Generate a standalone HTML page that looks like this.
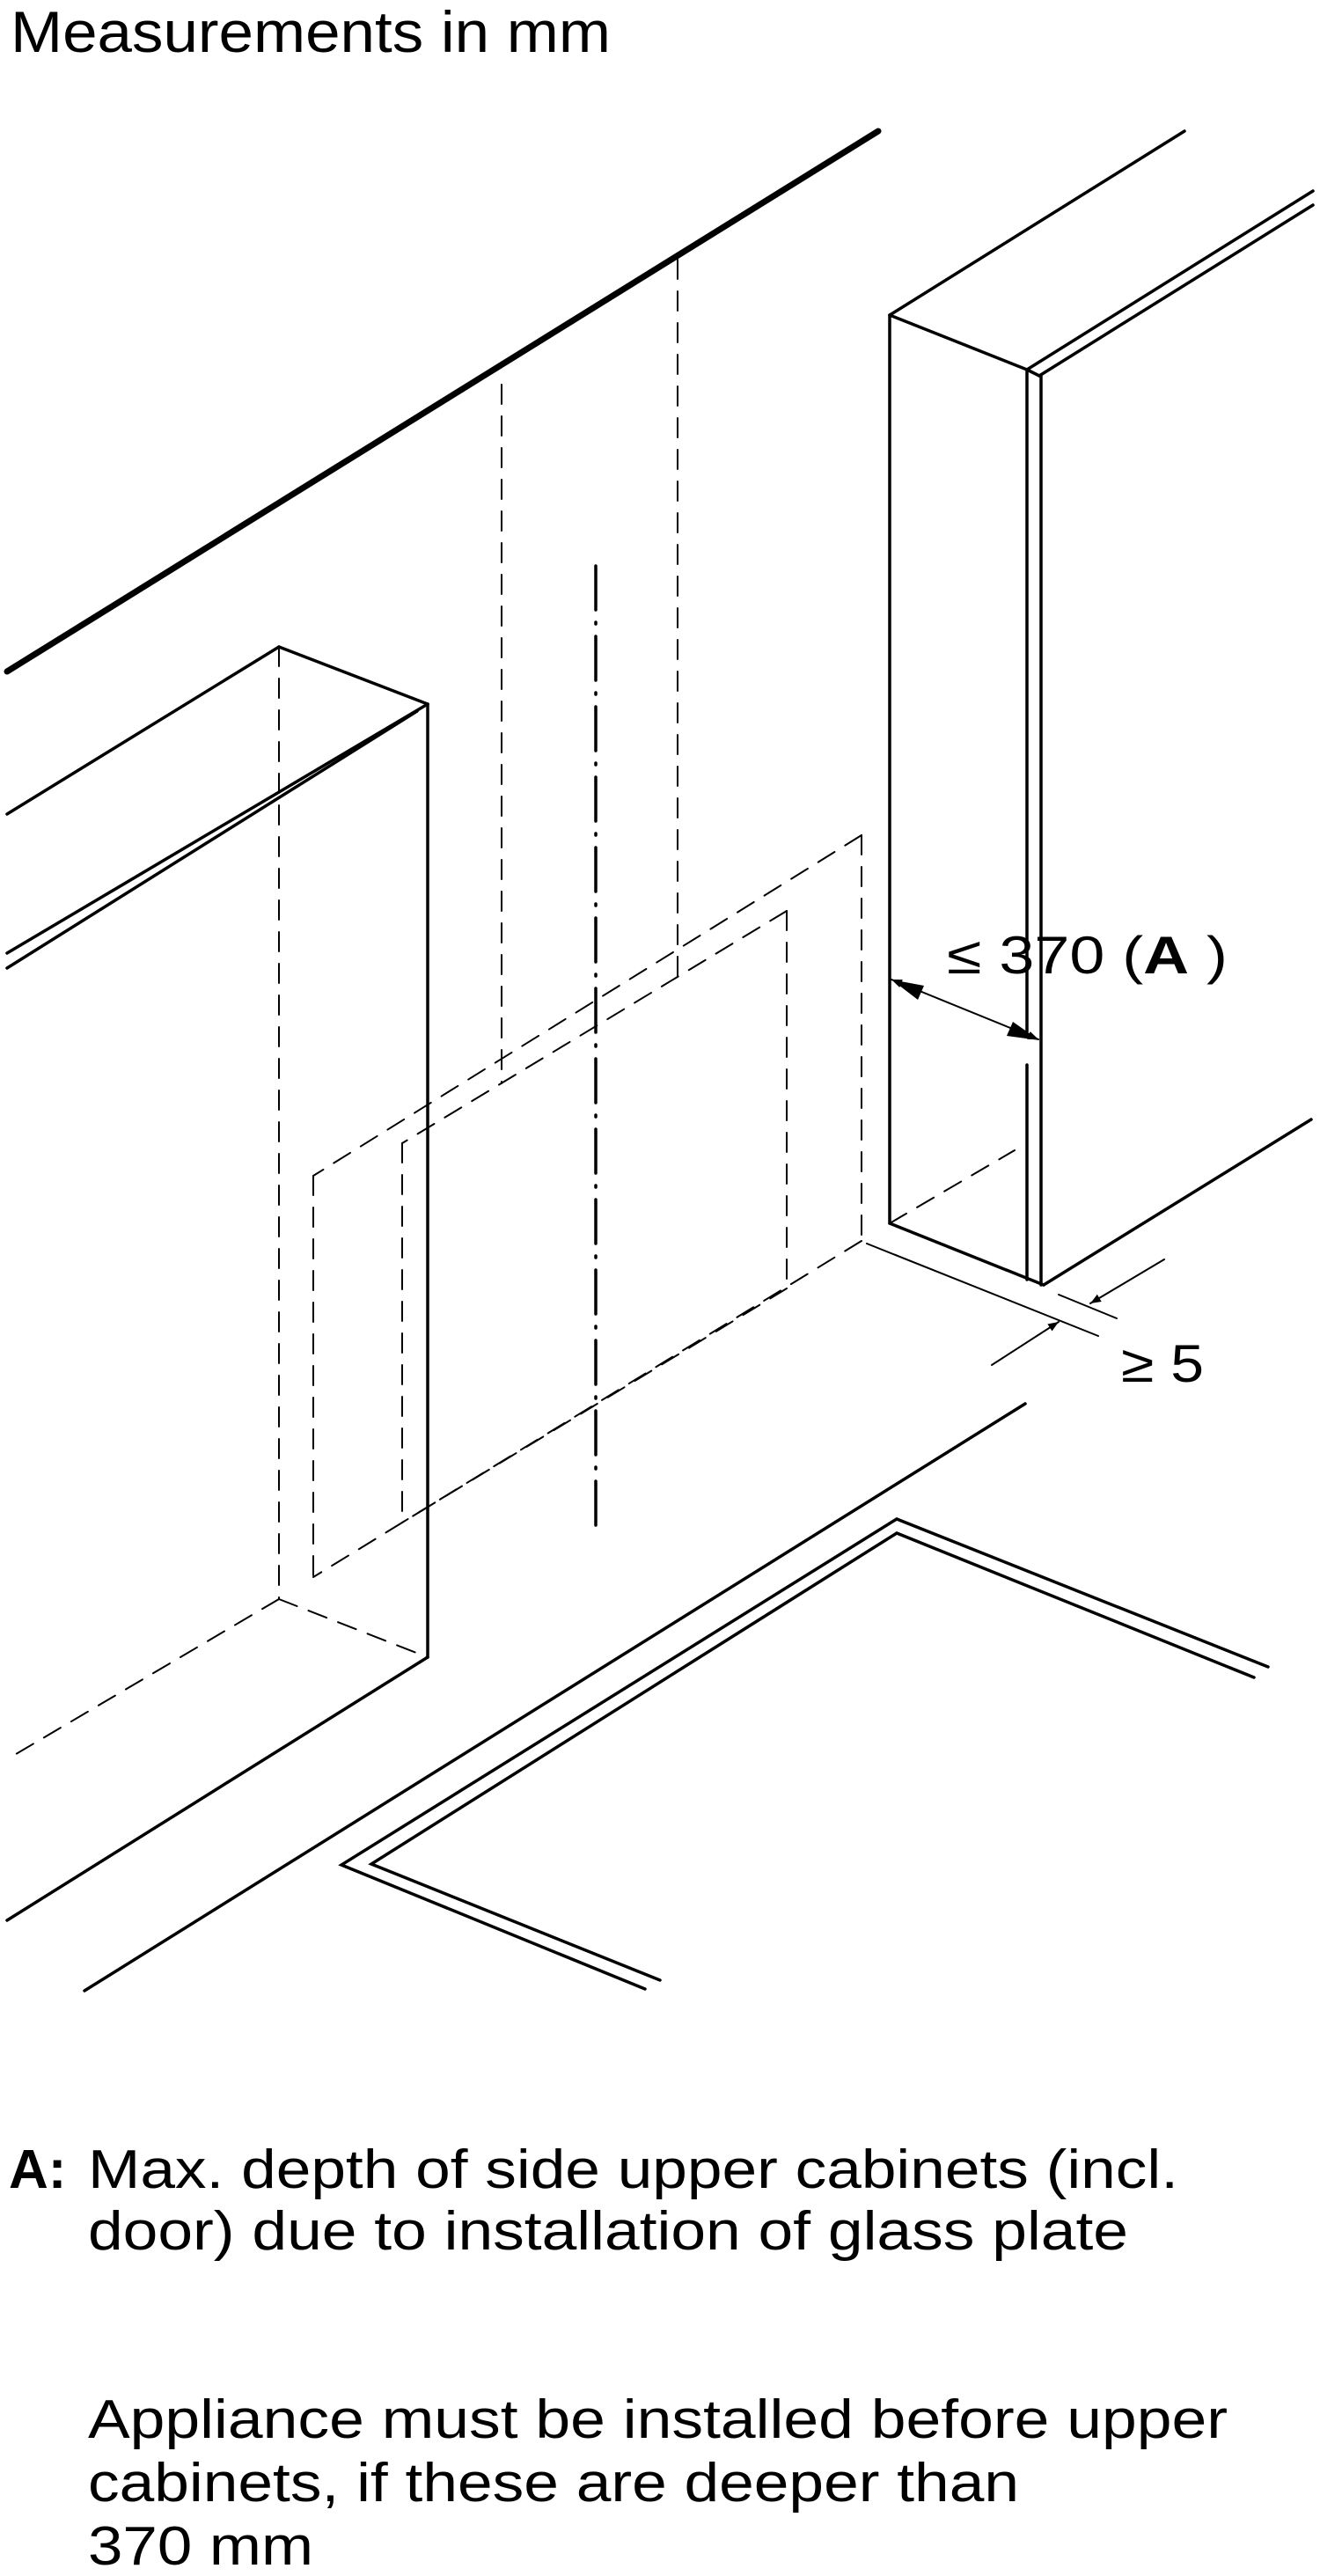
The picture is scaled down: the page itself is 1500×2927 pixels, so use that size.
<!DOCTYPE html>
<html><head><meta charset="utf-8"><style>
html,body{margin:0;padding:0;background:#fff}
svg{display:block}
text{font-family:"Liberation Sans",Arial,sans-serif;fill:#000}
</style></head><body>
<svg width="1500" height="2927" viewBox="0 0 1500 2927" xmlns="http://www.w3.org/2000/svg">
<defs>
<marker id="ah" viewBox="0 0 10 10" refX="10" refY="5" markerWidth="12" markerHeight="12" markerUnits="userSpaceOnUse" orient="auto-start-reverse">
<path d="M0,1 L10,5 L0,9 z" fill="#000"/></marker>
</defs>
<text x="12" y="59" font-size="66" textLength="682" lengthAdjust="spacingAndGlyphs">Measurements in mm</text>

<g stroke="#000" fill="none" stroke-linecap="round">
<line x1="8" y1="763" x2="998" y2="149" stroke-width="7"/>
<g stroke-width="3.5">
<line x1="1011" y1="358" x2="1346" y2="149"/>
<line x1="1011" y1="358" x2="1167" y2="420"/>
<line x1="1167" y1="420" x2="1492" y2="217"/>
<line x1="1181" y1="427" x2="1492" y2="233"/>
<line x1="1167" y1="420" x2="1181" y2="427"/>
<line x1="1011" y1="358" x2="1011" y2="1390"/>
<line x1="1167" y1="420" x2="1167" y2="1172"/>
<line x1="1167" y1="1210" x2="1167" y2="1454"/>
<line x1="1183" y1="427" x2="1183" y2="1460"/>
<line x1="1011" y1="1390" x2="1186" y2="1460"/>
<line x1="1186" y1="1460" x2="1490" y2="1272"/>
<line x1="8" y1="925" x2="317" y2="735"/>
<line x1="317" y1="735" x2="486" y2="800"/>
<line x1="8" y1="1083" x2="486" y2="800"/>
<line x1="8" y1="1100" x2="474" y2="808"/>
<line x1="486" y1="800" x2="486" y2="1883"/>
<line x1="486" y1="1883" x2="8" y2="2182"/>
<line x1="1165" y1="1595" x2="96" y2="2262"/>
<polyline points="1441,1894 1019,1726 388,2119 733,2260"/>
<polyline points="1425,1906 1019,1742 422,2118 750,2250"/>
</g>
<g stroke-width="2" stroke-dasharray="22,14">
<line x1="770" y1="295" x2="770" y2="1110"/>
<line x1="570" y1="437" x2="570" y2="1231"/>
<line x1="317" y1="735" x2="317" y2="1817"/>
<line x1="317" y1="1817" x2="486" y2="1883"/>
<line x1="317" y1="1817" x2="8" y2="1999"/>
<line x1="979" y1="949" x2="979" y2="1410"/>
<line x1="979" y1="949" x2="356" y2="1336"/>
<line x1="356" y1="1336" x2="356" y2="1792"/>
<line x1="979" y1="1410" x2="356" y2="1792"/>
<line x1="894" y1="1035" x2="457" y2="1299"/>
<line x1="894" y1="1035" x2="894" y2="1464"/>
<line x1="894" y1="1464" x2="457" y2="1730"/>
<line x1="457" y1="1299" x2="457" y2="1730"/>
<line x1="1011" y1="1390" x2="1153" y2="1307"/>
</g>
<line x1="677" y1="643" x2="677" y2="1736" stroke-width="3.5" stroke-dasharray="50,14,2,14"/>
<g stroke-width="2">
<line x1="1013" y1="1113" x2="1180" y2="1181" marker-start="url(#ah)" marker-end="url(#ah)"/>
<line x1="985" y1="1413" x2="1248" y2="1518"/>
<line x1="1203" y1="1471" x2="1269" y2="1498"/>
<line x1="1323" y1="1431" x2="1239" y2="1481" marker-end="url(#ah)"/>
<line x1="1127" y1="1551" x2="1203" y2="1502" marker-end="url(#ah)"/>
</g>
</g>
<g stroke="none" fill="#000">
<path d="M1013,1113 L1050,1120 L1043,1136 z"/>
<path d="M1181,1182 L1151,1161 L1144,1177 z"/>
</g>
<text x="1076" y="1106" font-size="60" textLength="319" lengthAdjust="spacingAndGlyphs">≤ 370 (<tspan font-weight="bold">A</tspan> )</text>
<text x="1274" y="1570" font-size="60" textLength="94" lengthAdjust="spacingAndGlyphs">≥ 5</text>

<text x="10" y="2486" font-size="62" font-weight="bold">A:</text>
<text x="100" y="2486" font-size="62" textLength="1239" lengthAdjust="spacingAndGlyphs">Max. depth of side upper cabinets (incl.</text>
<text x="100" y="2556" font-size="62" textLength="1182" lengthAdjust="spacingAndGlyphs">door) due to installation of glass plate</text>
<text x="100" y="2770" font-size="62" textLength="1295" lengthAdjust="spacingAndGlyphs">Appliance must be installed before upper</text>
<text x="100" y="2842" font-size="62" textLength="1058" lengthAdjust="spacingAndGlyphs">cabinets, if these are deeper than</text>
<text x="100" y="2914" font-size="62" textLength="256" lengthAdjust="spacingAndGlyphs">370 mm</text>
</svg>
</body></html>
